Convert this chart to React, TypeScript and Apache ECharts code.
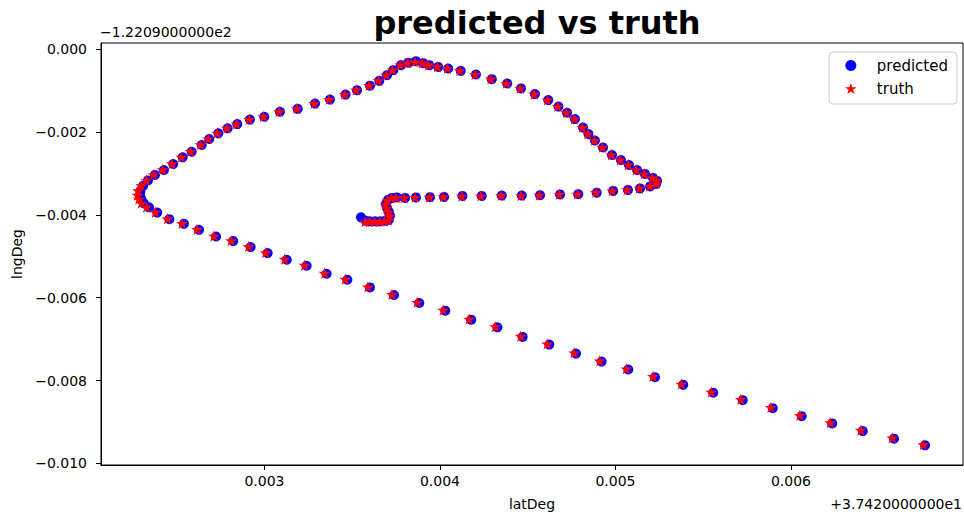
import React, { useEffect, useRef } from "react";
import * as echarts from "echarts";

// Values are offsets: latitude = 37.42 + lat offset, longitude = -122.09 + lng offset
const predictedLat = [
  0.003550, 0.003578, 0.003601, 0.003630, 0.003658, 0.003687, 0.003709, 0.003715, 0.003709, 0.003698,
  0.003692, 0.003704, 0.003726, 0.003755, 0.003801, 0.003863, 0.003943, 0.004023, 0.004128, 0.004238,
  0.004352, 0.004466, 0.004570, 0.004684, 0.004788, 0.004893, 0.004987, 0.005071, 0.005140, 0.005197,
  0.005231, 0.005237, 0.005214, 0.005168, 0.005123, 0.005077, 0.005031, 0.004980, 0.004929, 0.004883,
  0.004846, 0.004815, 0.004769, 0.004724, 0.004675, 0.004617, 0.004541, 0.004462, 0.004383, 0.004295,
  0.004205, 0.004118, 0.004047, 0.003990, 0.003939, 0.003905, 0.003863, 0.003819, 0.003778, 0.003734,
  0.003698, 0.003654, 0.003601, 0.003527, 0.003462, 0.003373, 0.003288, 0.003189, 0.003088, 0.002999,
  0.002917, 0.002845, 0.002790, 0.002737, 0.002685, 0.002642, 0.002585, 0.002534, 0.002480, 0.002427,
  0.002376, 0.002336, 0.002308, 0.002293, 0.002291, 0.002299, 0.002313, 0.002342, 0.002389, 0.002458,
  0.002541, 0.002627, 0.002724, 0.002822, 0.002921, 0.003018, 0.003127, 0.003240, 0.003354, 0.003472,
  0.003601, 0.003738, 0.003882, 0.004030, 0.004178, 0.004327, 0.004471, 0.004623, 0.004775, 0.004921,
  0.005073, 0.005225, 0.005386, 0.005557, 0.005725, 0.005896, 0.006061, 0.006235, 0.006409, 0.006587,
  0.006764,
];
const predictedLng = [
  -0.004060, -0.004145, -0.004157, -0.004157, -0.004157, -0.004145, -0.004120, -0.004024, -0.003928, -0.003831,
  -0.003735, -0.003639, -0.003590, -0.003578, -0.003590, -0.003578, -0.003573, -0.003566, -0.003542, -0.003542,
  -0.003535, -0.003535, -0.003525, -0.003506, -0.003501, -0.003463, -0.003422, -0.003398, -0.003361, -0.003313,
  -0.003253, -0.003181, -0.003108, -0.003012, -0.002916, -0.002795, -0.002675, -0.002554, -0.002373, -0.002205,
  -0.002048, -0.001892, -0.001687, -0.001535, -0.001386, -0.001229, -0.001084, -0.000947, -0.000827, -0.000723,
  -0.000610, -0.000523, -0.000465, -0.000427, -0.000386, -0.000337, -0.000289, -0.000325, -0.000386, -0.000506,
  -0.000627, -0.000764, -0.000880, -0.000988, -0.001096, -0.001217, -0.001313, -0.001439, -0.001511, -0.001631,
  -0.001699, -0.001807, -0.001911, -0.002031, -0.002169, -0.002313, -0.002475, -0.002610, -0.002771, -0.002916,
  -0.003036, -0.003169, -0.003301, -0.003422, -0.003530, -0.003627, -0.003723, -0.003819, -0.003945, -0.004104,
  -0.004217, -0.004361, -0.004523, -0.004634, -0.004778, -0.004923, -0.005084, -0.005229, -0.005422, -0.005566,
  -0.005752, -0.005935, -0.006128, -0.006313, -0.006530, -0.006716, -0.006947, -0.007133, -0.007349, -0.007542,
  -0.007735, -0.007920, -0.008104, -0.008296, -0.008475, -0.008667, -0.008860, -0.009036, -0.009222, -0.009405,
  -0.009566,
];
const truthLat = [
  0.003573, 0.003598, 0.003628, 0.003656, 0.003684, 0.003706, 0.003712, 0.003707, 0.003696, 0.003690,
  0.003701, 0.003722, 0.003750, 0.003796, 0.003858, 0.003940, 0.004020, 0.004124, 0.004233, 0.004348,
  0.004462, 0.004566, 0.004680, 0.004783, 0.004888, 0.004982, 0.005066, 0.005136, 0.005195, 0.005232,
  0.005235, 0.005210, 0.005164, 0.005118, 0.005073, 0.005027, 0.004976, 0.004925, 0.004880, 0.004842,
  0.004811, 0.004765, 0.004720, 0.004671, 0.004612, 0.004536, 0.004457, 0.004378, 0.004290, 0.004200,
  0.004113, 0.004042, 0.003985, 0.003934, 0.003900, 0.003858, 0.003815, 0.003773, 0.003729, 0.003693,
  0.003649, 0.003596, 0.003522, 0.003457, 0.003368, 0.003283, 0.003184, 0.003083, 0.002994, 0.002912,
  0.002840, 0.002785, 0.002731, 0.002679, 0.002636, 0.002579, 0.002527, 0.002473, 0.002420, 0.002368,
  0.002327, 0.002298, 0.002280, 0.002276, 0.002284, 0.002298, 0.002328, 0.002378, 0.002447, 0.002530,
  0.002616, 0.002712, 0.002810, 0.002909, 0.003007, 0.003115, 0.003228, 0.003342, 0.003460, 0.003589,
  0.003726, 0.003870, 0.004018, 0.004166, 0.004315, 0.004460, 0.004611, 0.004764, 0.004910, 0.005062,
  0.005214, 0.005375, 0.005546, 0.005714, 0.005885, 0.006050, 0.006224, 0.006398, 0.006577, 0.006754,
];
const truthLng = [
  -0.004160, -0.004162, -0.004160, -0.004158, -0.004150, -0.004125, -0.004030, -0.003935, -0.003838, -0.003742,
  -0.003645, -0.003595, -0.003582, -0.003586, -0.003575, -0.003570, -0.003560, -0.003545, -0.003540, -0.003530,
  -0.003532, -0.003520, -0.003502, -0.003497, -0.003458, -0.003418, -0.003392, -0.003356, -0.003305, -0.003245,
  -0.003175, -0.003102, -0.003008, -0.002910, -0.002790, -0.002670, -0.002548, -0.002368, -0.002200, -0.002042,
  -0.001886, -0.001682, -0.001530, -0.001380, -0.001224, -0.001080, -0.000942, -0.000822, -0.000718, -0.000605,
  -0.000518, -0.000460, -0.000422, -0.000380, -0.000332, -0.000300, -0.000330, -0.000380, -0.000500, -0.000620,
  -0.000758, -0.000874, -0.000982, -0.001090, -0.001210, -0.001306, -0.001432, -0.001505, -0.001625, -0.001693,
  -0.001800, -0.001904, -0.002025, -0.002162, -0.002306, -0.002468, -0.002603, -0.002764, -0.002908, -0.003028,
  -0.003160, -0.003292, -0.003414, -0.003524, -0.003620, -0.003716, -0.003810, -0.003936, -0.004095, -0.004205,
  -0.004350, -0.004510, -0.004622, -0.004765, -0.004910, -0.005070, -0.005215, -0.005408, -0.005552, -0.005738,
  -0.005920, -0.006112, -0.006297, -0.006514, -0.006700, -0.006930, -0.007116, -0.007330, -0.007524, -0.007716,
  -0.007900, -0.008085, -0.008278, -0.008456, -0.008648, -0.008840, -0.009016, -0.009200, -0.009384, -0.009548,
];

const xTicks = [0.003, 0.004, 0.005, 0.006];
const yTicks = [-0.01, -0.008, -0.006, -0.004, -0.002, 0];
const xOffsetText = "+3.7420000000e1";
const yOffsetText = "\u22121.2209000000e2";
const titleText = "predicted vs truth";
const seriesNames = ["predicted", "truth"];

const FONT = "DejaVu Sans";
const STAR =
  "path://M0 -1 L0.2245 -0.309 L0.9511 -0.309 L0.3633 0.118 L0.5878 0.809 L0 0.382 L-0.5878 0.809 L-0.3633 0.118 L-0.9511 -0.309 L-0.2245 -0.309 Z";

const fmt = (v: number) => {
  const s = Math.abs(v).toFixed(3);
  return (v < -1e-9 ? "\u2212" : "") + s;
};

export default function App() {
  const ref = useRef<HTMLDivElement>(null);
  useEffect(() => {
    if (!ref.current) return;
    const chart = echarts.init(ref.current, null, { renderer: "svg" });
    const predicted = predictedLat.map((x, i) => [x, predictedLng[i]]);
    const truth = truthLat.map((x, i) => [x, truthLng[i]]);
    chart.setOption({
      animation: false,
      backgroundColor: "#ffffff",
      textStyle: { fontFamily: FONT },
      title: {
        text: titleText,
        left: 532,
        top: 2,
        textAlign: "center",
        textStyle: { fontFamily: FONT, fontWeight: "bold", fontSize: 32, color: "#000" },
      },
      grid: {
        left: 101,
        right: 1,
        top: 43,
        bottom: 50,
        show: true,
        borderColor: "#000",
        borderWidth: 1,
      },
      legend: {
        data: seriesNames,
        orient: "vertical",
        right: 7,
        top: 52,
        itemWidth: 42,
        itemHeight: 11,
        itemGap: 6,
        padding: [5, 9, 7, 16],
        borderColor: "#cccccc",
        borderWidth: 1,
        borderRadius: 4,
        backgroundColor: "#ffffff",
        textStyle: { fontFamily: FONT, fontSize: 15, color: "#000", lineHeight: 17 },
      },
      xAxis: {
        type: "value",
        min: 0.0020684,
        max: 0.0069801,
        splitLine: { show: false },
        axisLine: { show: true, onZero: false, lineStyle: { color: "#000", width: 1 } },
        axisTick: { show: true, customValues: xTicks, length: 5, lineStyle: { color: "#000" } },
        axisLabel: {
          customValues: xTicks,
          formatter: fmt,
          fontFamily: FONT,
          fontSize: 14,
          color: "#000",
          margin: 9,
        },
        name: "latDeg",
        nameLocation: "middle",
        nameGap: 32,
        nameTextStyle: { fontFamily: FONT, fontSize: 14, color: "#000" },
      },
      yAxis: {
        type: "value",
        min: -0.01004,
        max: 0.00015,
        splitLine: { show: false },
        axisLine: { show: true, onZero: false, lineStyle: { color: "#000", width: 1 } },
        axisTick: { show: true, customValues: yTicks, length: 5, lineStyle: { color: "#000" } },
        axisLabel: {
          customValues: yTicks,
          formatter: fmt,
          fontFamily: FONT,
          fontSize: 14,
          color: "#000",
          margin: 14,
        },
        name: "lngDeg",
        nameLocation: "middle",
        nameRotate: 90,
        nameGap: 77,
        nameTextStyle: { fontFamily: FONT, fontSize: 14, color: "#000" },
      },
      graphic: [
        {
          type: "text",
          left: 100,
          top: 25,
          style: { text: yOffsetText, fontFamily: FONT, fontSize: 14, fill: "#000" },
        },
        {
          type: "text",
          right: 2,
          top: 497,
          style: { text: xOffsetText, fontFamily: FONT, fontSize: 14, fill: "#000" },
        },
      ],
      series: [
        {
          name: seriesNames[0],
          type: "scatter",
          data: predicted,
          symbol: "circle",
          symbolSize: 10,
          itemStyle: { color: "#0000ff", opacity: 1 },
          z: 2,
        },
        {
          name: seriesNames[1],
          type: "scatter",
          data: truth,
          symbol: STAR,
          symbolSize: 12,
          symbolKeepAspect: true,
          itemStyle: { color: "#ff0000", opacity: 1 },
          z: 3,
        },
      ],
    });
    return () => chart.dispose();
  }, []);
  return (
    <div
      ref={ref}
      style={{ position: "fixed", left: 0, top: 0, width: 964, height: 516 }}
    />
  );
}
